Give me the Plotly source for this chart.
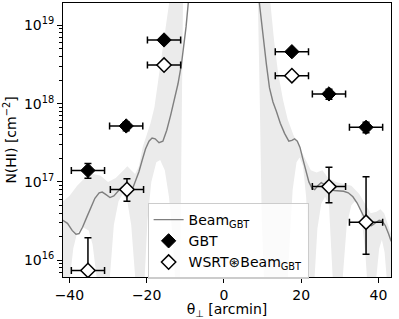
import numpy as np
import plotly.graph_objects as go

# ---- Beam curve (GBT beam), log10 N(HI) ----
beam_x = [-41.7, -40.5, -39.3, -38.3, -37.5, -36.6, -35.5, -34.5, -33.4, -32.3, -31.5, -30.6,
          -29.5, -28.5, -27.5, -26.5, -25.5, -24.5, -23.6, -22.8, -22.0, -21.2, -20.3, -19.4,
          -18.6, -17.8, -16.8, -15.8, -14.8, -13.8, -12.8, -11.9, -11.0, -10.4, -9.8, -9.2,
          -8.0, -5.0, 0.0, 5.0, 8.0, 9.1, 9.7, 10.3, 11.0, 11.8, 12.7, 13.6, 14.6, 15.7, 16.8,
          17.6, 18.3, 19.0, 19.7, 20.4, 21.2, 22.0, 22.8, 23.5, 24.3, 25.2, 26.2, 27.3, 28.5,
          29.8, 31.0, 32.2, 33.4, 34.5, 35.5, 36.4, 37.3, 38.2, 39.2, 40.2, 41.0, 41.8, 42.6, 43.3]
beam_log = [16.51, 16.47, 16.38, 16.33, 16.34, 16.42, 16.55, 16.67, 16.79, 16.86, 16.87, 16.84,
            16.80, 16.82, 16.88, 16.93, 16.92, 16.88, 16.92, 17.02, 17.13, 17.27, 17.42, 17.52,
            17.56, 17.55, 17.50, 17.52, 17.66, 17.85, 18.05, 18.25, 18.50, 18.72, 18.98, 19.30,
            19.90, 20.60, 21.00, 20.60, 19.90, 19.32, 19.05, 18.80, 18.50, 18.20, 18.02, 17.90, 17.75, 17.62, 17.52,
            17.53, 17.55, 17.52, 17.44, 17.30, 17.13, 17.00, 16.92, 16.90, 16.95, 16.99, 16.96, 16.91, 16.89,
            16.88, 16.88, 16.86, 16.81, 16.73, 16.63, 16.53, 16.45, 16.44, 16.48, 16.51, 16.50, 16.44, 16.34, 16.24]

# ---- Beam uncertainty band: lower and upper bounds (log10) ----
band_lo_x = [-41.7, -41.0, -39.8, -39.0, -38.0, -36.5, -35.0, -34.0, -33.0, -31.2, -29.5, -28.5,
             -27.3, -26.2, -25.0, -24.0, -23.0, -21.8, -20.5, -19.8, -18.8, -17.5, -16.5, -15.3,
             -14.2, -13.3, -12.7, -11.7, -11.2, -10.9, -10.6, -10.0, 0.0, 8.0, 8.8, 9.3, 9.8,
             10.5, 12.5, 15.0, 16.5, 17.1, 17.8, 18.8, 19.6, 20.5, 21.3, 22.0, 22.8, 23.5, 24.2,
             25.2, 26.2, 27.2, 28.0, 29.5, 30.8, 31.8, 33.0, 34.2, 35.5, 36.6, 37.0, 38.2, 39.5,
             40.2, 40.9, 41.6, 42.1, 43.5]
band_lo_log = [15.2, 14.5, 15.8, 16.15, 16.35, 16.42, 16.38, 16.2, 15.8, 14.5, 15.8, 16.45,
               16.75, 16.85, 16.75, 16.45, 15.8, 14.5, 15.8, 16.5, 17.0, 17.25, 17.28, 17.15,
               16.8, 16.3, 15.8, 14.5, 16.5, 18.0, 19.3, 19.9, 21.0, 19.8, 19.3, 18.0, 16.5,
               15.6, 14.0, 15.0, 15.7, 16.3, 16.9, 17.25, 17.31, 17.2, 16.8, 16.0, 14.5, 15.8, 16.4,
               16.72, 16.81, 16.7, 16.1, 14.5, 15.8, 16.45, 16.7, 16.77, 16.6, 16.1, 15.8, 14.5, 15.8,
               16.15, 16.26, 16.1, 15.8, 14.5]
band_hi_x = [-41.7, -40.0, -38.0, -36.0, -34.0, -32.0, -30.0, -28.0, -26.0, -25.0, -24.0, -23.0,
             -22.0, -21.0, -20.0, -19.0, -18.0, -17.0, -16.0, -15.0, -14.0, -13.0, 0.0, 11.0,
             12.0, 13.0, 14.0, 15.3, 16.5, 18.0, 19.6, 21.0, 22.5, 24.0, 25.5, 27.0, 29.0, 31.0,
             33.0, 35.0, 36.5, 38.0, 39.5, 40.5, 41.5, 42.5, 43.5]
band_hi_log = [16.75, 16.82, 16.95, 17.05, 17.10, 17.08, 17.00, 17.05, 17.15, 17.20, 17.15, 17.10,
               17.20, 17.45, 17.60, 17.75, 17.95, 18.25, 18.60, 19.00, 19.35, 19.80, 21.0, 19.8,
               19.3, 18.8, 18.4, 18.05, 17.8, 17.6, 17.45, 17.3, 17.15, 17.12, 17.15, 17.05, 17.0, 16.98,
               16.95, 16.85, 16.72, 16.6, 16.62, 16.65, 16.6, 16.45, 16.3]

# ---- GBT measurements ----
gbt_x = [-35.2, -25.3, -15.5, 17.6, 27.2, 36.8]
gbt_y = [1.40e17, 5.18e17, 6.5e18, 4.6e18, 1.33e18, 4.98e17]
gbt_err_up = [0.32e17, 0.64e17, 0.3e18, 0.2e18, 0.19e18, 0.79e17]
gbt_err_dn = [0.29e17, 0.67e17, 0.3e18, 0.2e18, 0.19e18, 0.73e17]

# ---- WSRT convolved with GBT beam ----
wsrt_x = [-35.2, -25.1, -15.5, 17.6, 27.2, 36.8]
wsrt_y = [7.4e15, 8.0e16, 3.11e18, 2.27e18, 8.7e16, 3.05e16]
wsrt_err_up = [1.2e16, 3.0e16, 0.15e18, 0.1e18, 6.7e16, 8.6e16]
wsrt_err_dn = [7.3e15, 2.35e16, 0.15e18, 0.1e18, 3.3e16, 1.86e16]

theta_err = 4.3

y_tickvals = [1e16, 1e17, 1e18, 1e19]
y_ticktext = ["10<sup>16</sup>", "10<sup>17</sup>", "10<sup>18</sup>", "10<sup>19</sup>"]
x_tickvals = [-40, -20, 0, 20, 40]

FONT = "DejaVu Sans"

fig = go.Figure()

# band polygon: lower bound forward, upper bound reversed
poly_x = list(band_lo_x) + list(band_hi_x)[::-1]
poly_y = list(10 ** np.array(band_lo_log)) + list(10 ** np.array(band_hi_log))[::-1]
fig.add_trace(go.Scatter(x=poly_x, y=poly_y, fill="toself", mode="lines",
                         line=dict(width=0), fillcolor="#ebebeb",
                         showlegend=False, hoverinfo="skip"))

fig.add_trace(go.Scatter(x=beam_x, y=10 ** np.array(beam_log), mode="lines",
                         line=dict(color="#7f7f7f", width=1.4),
                         name="Beam<sub>GBT</sub>"))

fig.add_trace(go.Scatter(
    x=gbt_x, y=gbt_y, mode="markers", name="GBT",
    marker=dict(symbol="diamond", size=11, color="black", line=dict(color="black", width=1)),
    error_x=dict(type="constant", value=theta_err, color="black", thickness=1.5, width=3.5),
    error_y=dict(type="data", array=gbt_err_up, arrayminus=gbt_err_dn, symmetric=False,
                 color="black", thickness=1.5, width=3.5)))

fig.add_trace(go.Scatter(
    x=wsrt_x, y=wsrt_y, mode="markers", name="WSRT⊛Beam<sub>GBT</sub>",
    marker=dict(symbol="diamond", size=11, color="white", line=dict(color="black", width=1.5)),
    error_x=dict(type="constant", value=theta_err, color="black", thickness=1.5, width=3.5),
    error_y=dict(type="data", array=wsrt_err_up, arrayminus=wsrt_err_dn, symmetric=False,
                 color="black", thickness=1.5, width=3.5)))

fig.update_layout(
    width=399, height=319,
    margin=dict(l=63, r=8, t=3, b=42, autoexpand=False),
    paper_bgcolor="white", plot_bgcolor="white",
    font=dict(family=FONT, size=14, color="black"),
    legend=dict(x=0.258, y=0.27, xanchor="left", yanchor="top",
                bgcolor="rgba(255,255,255,0.8)", bordercolor="#cccccc", borderwidth=1,
                font=dict(family=FONT, size=14, color="black"),
                itemwidth=30, tracegroupgap=0),
    showlegend=True,
)

fig.update_xaxes(
    range=[-41.66, 43.26], tickvals=x_tickvals, ticks="outside", ticklen=5, tickwidth=1,
    tickcolor="black", showline=True, linecolor="black", linewidth=1, mirror=True,
    showgrid=False, zeroline=False, automargin=False,
    title=dict(text="θ<sub>⊥</sub> [arcmin]", standoff=2, font=dict(size=14)),
    tickfont=dict(size=14))

fig.update_yaxes(
    type="log", range=[15.785, 19.285], tickvals=y_tickvals, ticktext=y_ticktext,
    ticks="outside", ticklen=5, tickwidth=1, tickcolor="black",
    minor=dict(ticks="outside", ticklen=3, tickwidth=0.8, tickcolor="black", dtick="D1", showgrid=False),
    showline=True, linecolor="black", linewidth=1, mirror=True,
    showgrid=False, zeroline=False, automargin=False,
    title=dict(text="N(HI) [cm<sup>−2</sup>]", standoff=4, font=dict(size=14)),
    tickfont=dict(size=14))

fig.write_html("out.html", config={"displayModeBar": False},
               post_script="document.body.style.margin='0';document.body.style.padding='0';")
